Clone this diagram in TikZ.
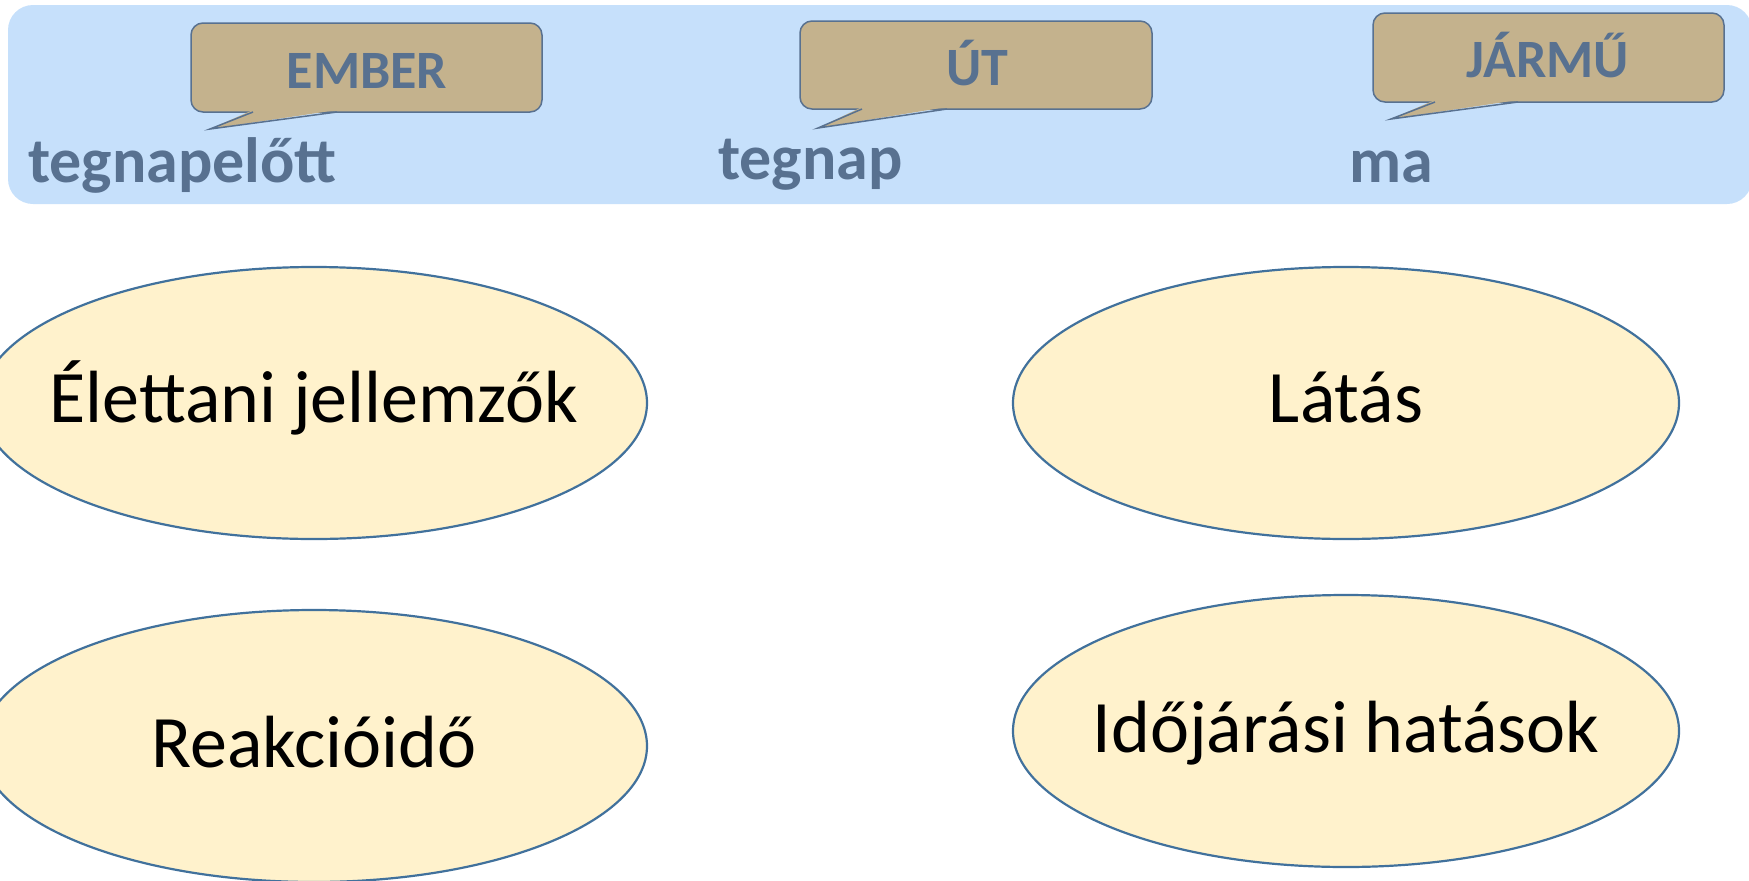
\documentclass[tikz,border=0pt]{standalone}
\usepackage{fontspec}
\setmainfont{Carlito}
\usetikzlibrary{shapes.geometric}
\definecolor{bandblue}{HTML}{C6E0FB}
\definecolor{calloutfill}{HTML}{C4B28D}
\definecolor{slate}{HTML}{587190}
\definecolor{ellfill}{HTML}{FFF2CC}
\definecolor{ellline}{HTML}{41719C}
\tikzset{
  x=1pt, y=-1pt,
  bubble/.style={draw=slate, fill=calloutfill, line width=1.5pt, rounded corners=12pt},
  bubbletext/.style={text=slate, font=\fontsize{54}{58}\selectfont\bfseries, inner sep=0pt, anchor=base},
  daylabel/.style={text=slate, font=\fontsize{64}{68}\selectfont\bfseries, inner sep=0pt, anchor=base west},
  topic/.style={ellipse, draw=ellline, fill=ellfill, line width=2.2pt,
    minimum width=666pt, minimum height=272pt, inner sep=0pt},
  topictext/.style={font=\fontsize{74}{80}\selectfont, inner sep=0pt, anchor=base}
}
% speech bubble: box corners, tail base x1,x2 on the bottom edge, tail tip
\newcommand{\bubblebox}[9]{%
  % #1 name, #2 L, #3 T, #4 R, #5 B, #6 x1, #7 x2, #8 tip x, #9 tip y
  \draw[bubble] (#2,#3) rectangle (#4,#5);
  \fill[calloutfill] (#6,#5-2) -- (#8,#9) -- (#7,#5-2) -- cycle;
  \draw[slate, line width=1.5pt, line join=miter] (#6,#5) -- (#8,#9) -- (#7,#5);
  \coordinate (#1) at ({(#2+#4)/2},{(#3+#5)/2});
}
\begin{document}
\begin{tikzpicture}
\useasboundingbox (0,0) rectangle (1749,881);
\begin{scope}
\clip (0,0) rectangle (1749,881);

% timeline band
\fill[bandblue, rounded corners=25pt] (8,5) rectangle (1752,204);

% speech bubbles
\bubblebox{emberbox}{191}{23}{542}{112}{253}{337}{210}{129}
\node[bubbletext] (ember) at (367,88) {EMBER};
\bubblebox{utbox}{800}{21}{1152}{109}{862}{947}{818}{128}
\node[bubbletext] (ut) at (977,85) {ÚT};
\bubblebox{jarmubox}{1373}{13}{1724}{102}{1435}{1518}{1391}{119}
\node[bubbletext] (jarmu) at (1548,77) {JÁRMŰ};

% day labels
\node[daylabel] (tegnapelott) at (28,182) {tegnapelőtt};
\node[daylabel] (tegnap) at (718,179) {tegnap};
\node[daylabel] (ma) at (1349,182) {ma};

% topics
\node[topic] (elettani) at (314,403) {};
\node[topictext] (elettanitext) at ([yshift=-19pt]elettani.center) {Élettani jellemzők};
\node[topic] (latas) at (1346,403) {};
\node[topictext] (latastext) at ([yshift=-19pt]latas.center) {Látás};
\node[topic] (reakcio) at (314,746) {};
\node[topictext] (reakciotext) at ([yshift=-21pt]reakcio.center) {Reakcióidő};
\node[topic] (idojaras) at (1346,731) {};
\node[topictext] (idojarastext) at ([yshift=-21pt]idojaras.center) {Időjárási hatások};
\end{scope}
\end{tikzpicture}
\end{document}
